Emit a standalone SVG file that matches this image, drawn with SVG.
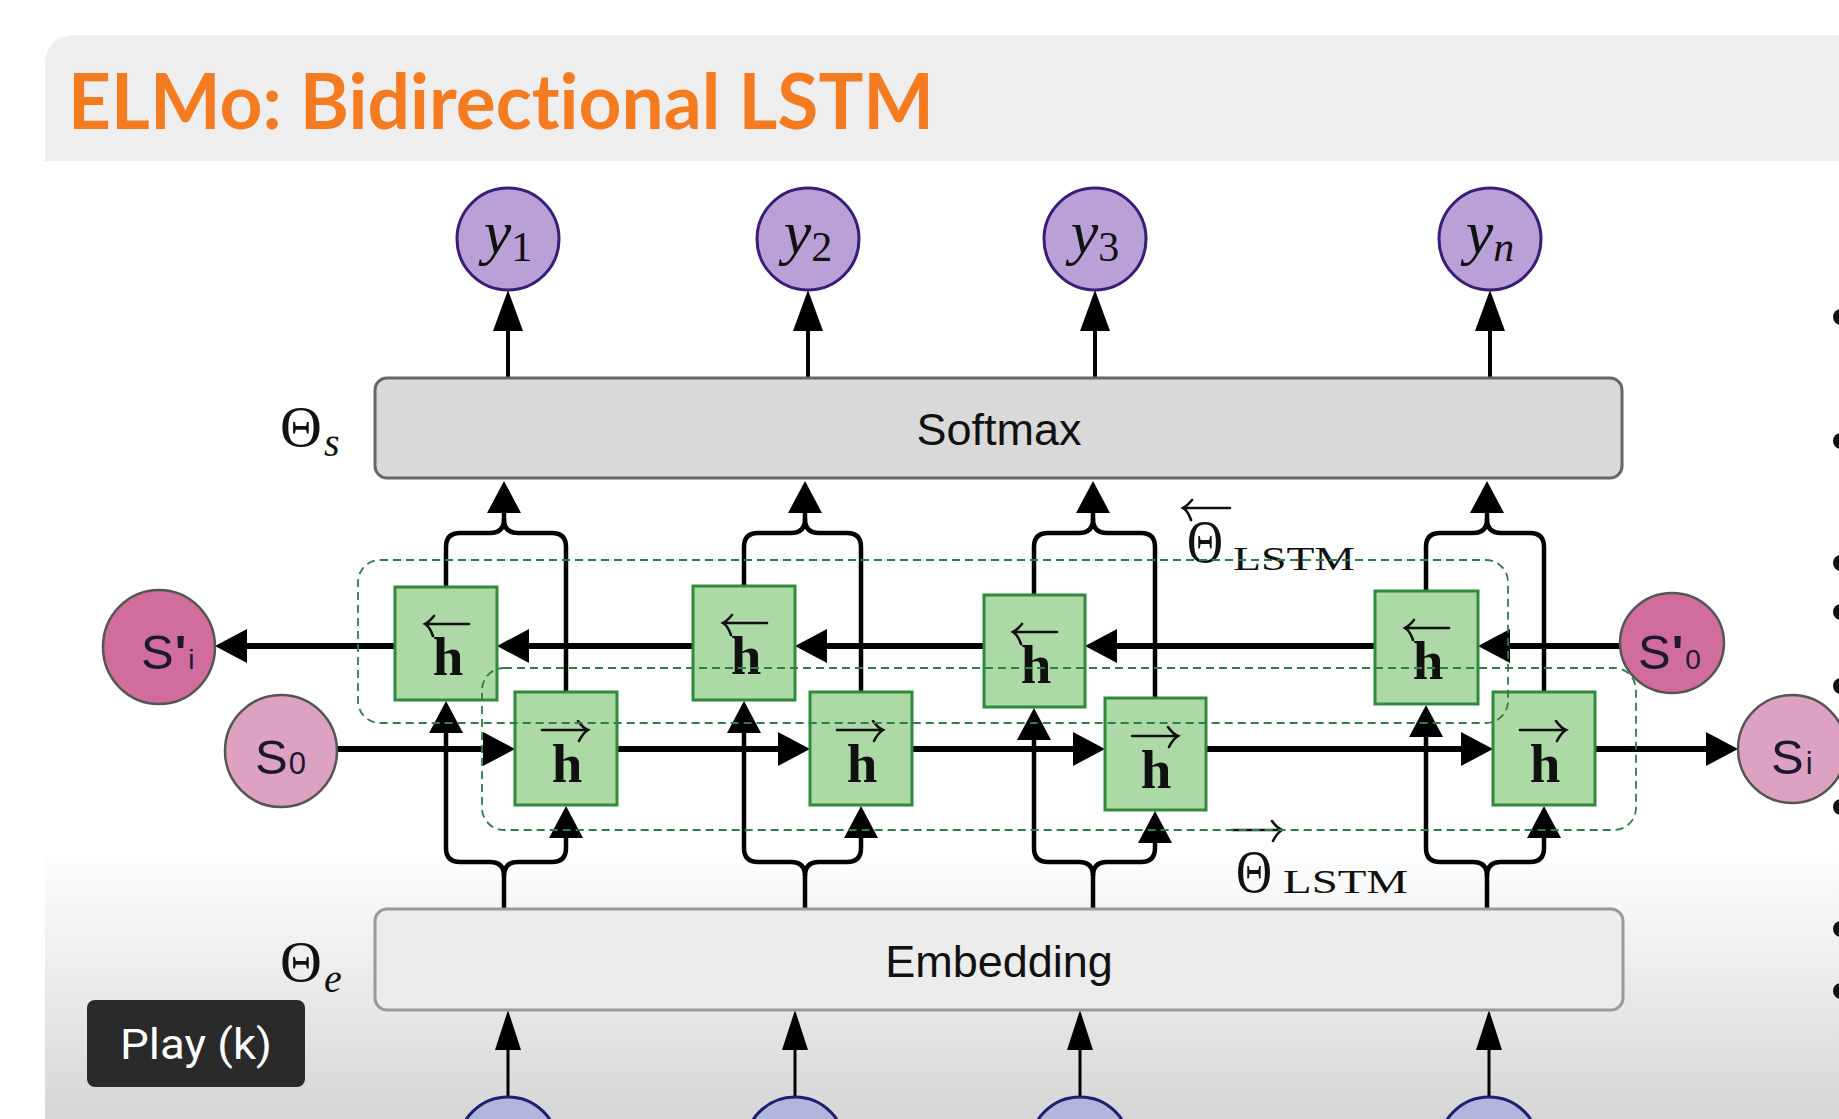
<svg xmlns="http://www.w3.org/2000/svg" width="1839" height="1119" viewBox="0 0 1839 1119">
<style>
.title{font-family:Lato,"Liberation Sans",sans-serif;font-weight:700;font-size:76px;fill:#f47b20;font-variant-ligatures:none;font-feature-settings:"liga" 0,"dlig" 0}
.box{font-family:"Liberation Sans",Arial,sans-serif;font-size:45px;fill:#111}
.math{font-family:"Liberation Serif","DejaVu Serif",serif;fill:#111}
.it{font-style:italic}
.hl{font-family:"Liberation Serif","DejaVu Serif",serif;font-weight:700;font-size:55px;fill:#111}
.sl{font-family:"Liberation Sans",Arial,sans-serif;font-size:49px;fill:#1c1830}
.cell{fill:#acd9a6;stroke:#2f8a3a;stroke-width:3}
.out{fill:#b9a0d6;stroke:#3a1d78;stroke-width:3}
.inp{fill:#b2b6dd;stroke:#1d1f70;stroke-width:3}
.sd{fill:#d16d9c;stroke:#555;stroke-width:2.5}
.sl2{fill:#dda2c2;stroke:#555;stroke-width:2.5}
.hz{fill:none;stroke:#000;stroke-width:6}
.vt{fill:none;stroke:#000;stroke-width:4.5}
.th{fill:none;stroke:#000;stroke-width:4}
.tn{fill:none;stroke:#000;stroke-width:3}
.dash{fill:none;stroke:#2e7d4a;stroke-width:1.8;stroke-dasharray:8 5}
.vec{fill:none;stroke:#111;stroke-width:2.6;stroke-linecap:round}
.bul{fill:#111}
</style>
<defs>
<linearGradient id="bg" x1="0" y1="0" x2="0" y2="1">
<stop offset="0" stop-color="#ffffff"/>
<stop offset="0.72" stop-color="#ffffff"/>
<stop offset="1" stop-color="#d6d6d6"/>
</linearGradient>
<marker id="ah" markerUnits="userSpaceOnUse" viewBox="0 -20 40 40" refX="0" refY="0" markerWidth="40" markerHeight="40" orient="auto" overflow="visible"><path d="M0,-17 L32,0 L0,17 z" fill="#000"/></marker>
<marker id="at" markerUnits="userSpaceOnUse" viewBox="0 -20 45 40" refX="0" refY="0" markerWidth="45" markerHeight="40" orient="auto" overflow="visible"><path d="M0,-15 L41,0 L0,15 z" fill="#000"/></marker>
<marker id="ai" markerUnits="userSpaceOnUse" viewBox="0 -20 45 40" refX="0" refY="0" markerWidth="45" markerHeight="40" orient="auto" overflow="visible"><path d="M0,-13 L40,0 L0,13 z" fill="#000"/></marker>
</defs>
<rect x="0" y="0" width="1839" height="1119" fill="#ffffff"/>
<rect x="45" y="150" width="1794" height="969" fill="url(#bg)"/>
<path d="M45,161 L45,67 Q45,35 77,35 L1839,35 L1839,161 z" fill="#eeeeee"/>
<text class="title" x="68" y="129" textLength="866" lengthAdjust="spacingAndGlyphs">ELMo: Bidirectional LSTM</text>

<g id="connectors">
<path class="th" d="M508,378 L508,331" marker-end="url(#at)"/>
<path class="th" d="M808,378 L808,331" marker-end="url(#at)"/>
<path class="th" d="M1095,378 L1095,331" marker-end="url(#at)"/>
<path class="th" d="M1490,378 L1490,331" marker-end="url(#at)"/>
<path class="tn" d="M508,1097 L508,1050" marker-end="url(#ai)"/>
<path class="tn" d="M795,1097 L795,1050" marker-end="url(#ai)"/>
<path class="tn" d="M1080,1097 L1080,1050" marker-end="url(#ai)"/>
<path class="tn" d="M1489,1097 L1489,1050" marker-end="url(#ai)"/>
<path class="hz" d="M1620,646 L1510,646" marker-end="url(#ah)"/>
<path class="hz" d="M1375,646 L1117,646" marker-end="url(#ah)"/>
<path class="hz" d="M984,646 L827,646" marker-end="url(#ah)"/>
<path class="hz" d="M693,646 L529,646" marker-end="url(#ah)"/>
<path class="hz" d="M395,646 L247,646" marker-end="url(#ah)"/>
<path class="hz" d="M337,749 L483,749" marker-end="url(#ah)"/>
<path class="hz" d="M617,749 L778,749" marker-end="url(#ah)"/>
<path class="hz" d="M912,749 L1073,749" marker-end="url(#ah)"/>
<path class="hz" d="M1206,749 L1461,749" marker-end="url(#ah)"/>
<path class="hz" d="M1595,749 L1706,749" marker-end="url(#ah)"/>
<path class="vt" d="M446,587 L446,547 Q446,533 460,533 L490,533 Q504,533 504,519 L504,513" marker-end="url(#ah)"/>
<path class="vt" d="M566,692 L566,547 Q566,533 552,533 L518,533 Q504,533 504,519"/>
<path class="vt" d="M744,586 L744,547 Q744,533 758,533 L791,533 Q805,533 805,519 L805,513" marker-end="url(#ah)"/>
<path class="vt" d="M861,692 L861,547 Q861,533 847,533 L819,533 Q805,533 805,519"/>
<path class="vt" d="M1034,595 L1034,547 Q1034,533 1048,533 L1079,533 Q1093,533 1093,519 L1093,513" marker-end="url(#ah)"/>
<path class="vt" d="M1155,698 L1155,547 Q1155,533 1141,533 L1107,533 Q1093,533 1093,519"/>
<path class="vt" d="M1426,591 L1426,547 Q1426,533 1440,533 L1473,533 Q1487,533 1487,519 L1487,513" marker-end="url(#ah)"/>
<path class="vt" d="M1544,692 L1544,547 Q1544,533 1530,533 L1501,533 Q1487,533 1487,519"/>
<path class="vt" d="M504,908 L504,876 Q504,862 490,862 L460,862 Q446,862 446,848 L446,733" marker-end="url(#ah)"/>
<path class="vt" d="M504,876 Q504,862 518,862 L552,862 Q566,862 566,848 L566,838" marker-end="url(#ah)"/>
<path class="vt" d="M805,908 L805,876 Q805,862 791,862 L758,862 Q744,862 744,848 L744,733" marker-end="url(#ah)"/>
<path class="vt" d="M805,876 Q805,862 819,862 L847,862 Q861,862 861,848 L861,838" marker-end="url(#ah)"/>
<path class="vt" d="M1093,908 L1093,876 Q1093,862 1079,862 L1048,862 Q1034,862 1034,848 L1034,740" marker-end="url(#ah)"/>
<path class="vt" d="M1093,876 Q1093,862 1107,862 L1141,862 Q1155,862 1155,848 L1155,843" marker-end="url(#ah)"/>
<path class="vt" d="M1487,908 L1487,876 Q1487,862 1473,862 L1440,862 Q1426,862 1426,848 L1426,737" marker-end="url(#ah)"/>
<path class="vt" d="M1487,876 Q1487,862 1501,862 L1530,862 Q1544,862 1544,848 L1544,838" marker-end="url(#ah)"/>
</g>

<g id="softmax">
<rect x="375" y="378" width="1247" height="100" rx="12" fill="#d9d9d9" stroke="#666" stroke-width="3"/>
<text class="box" x="999" y="445" text-anchor="middle">Softmax</text>
</g>
<g id="embedding">
<rect x="375" y="909" width="1248" height="101" rx="12" fill="#ececec" stroke="#9a9a9a" stroke-width="3"/>
<text class="box" x="999" y="977" text-anchor="middle">Embedding</text>
</g>
<g id="theta-s"><text class="math" x="280" y="446" font-size="58">Θ</text><text class="math it" x="324" y="456" font-size="40">s</text></g>
<g id="theta-e"><text class="math" x="280" y="981" font-size="58">Θ</text><text class="math it" x="324" y="992" font-size="40">e</text></g>

<g id="y1"><ellipse class="out" cx="508" cy="239" rx="51" ry="51"/><text class="math" x="508" y="253" text-anchor="middle"><tspan class="it" font-size="62">y</tspan><tspan font-size="42" dy="8">1</tspan></text></g>
<g id="y2"><ellipse class="out" cx="808" cy="239" rx="51" ry="51"/><text class="math" x="808" y="253" text-anchor="middle"><tspan class="it" font-size="62">y</tspan><tspan font-size="42" dy="8">2</tspan></text></g>
<g id="y3"><ellipse class="out" cx="1095" cy="239" rx="51" ry="51"/><text class="math" x="1095" y="253" text-anchor="middle"><tspan class="it" font-size="62">y</tspan><tspan font-size="42" dy="8">3</tspan></text></g>
<g id="yn"><ellipse class="out" cx="1490" cy="239" rx="51" ry="51"/><text class="math" x="1490" y="253" text-anchor="middle"><tspan class="it" font-size="62">y</tspan><tspan class="it" font-size="42" dy="8">n</tspan></text></g>

<g id="x1"><circle class="inp" cx="508" cy="1147" r="50"/></g>
<g id="x2"><circle class="inp" cx="795" cy="1147" r="50"/></g>
<g id="x3"><circle class="inp" cx="1080" cy="1147" r="50"/></g>
<g id="xn"><circle class="inp" cx="1489" cy="1147" r="50"/></g>

<g id="back1"><rect class="cell" x="395" y="587" width="102" height="113"/><path class="vec" d="M425,624 L469,624 M434,616 Q429,622 425,624 Q430,627 433,636"/><text class="hl" x="448" y="675" text-anchor="middle">h</text></g>
<g id="back2"><rect class="cell" x="693" y="586" width="102" height="114"/><path class="vec" d="M723,623 L767,623 M732,615 Q727,621 723,623 Q728,626 731,635"/><text class="hl" x="746" y="674" text-anchor="middle">h</text></g>
<g id="back3"><rect class="cell" x="984" y="595" width="101" height="112"/><path class="vec" d="M1013,632 L1057,632 M1022,624 Q1017,630 1013,632 Q1018,635 1021,644"/><text class="hl" x="1036" y="683" text-anchor="middle">h</text></g>
<g id="back4"><rect class="cell" x="1375" y="591" width="103" height="113"/><path class="vec" d="M1405,628 L1449,628 M1414,620 Q1409,626 1405,628 Q1410,631 1413,640"/><text class="hl" x="1428" y="679" text-anchor="middle">h</text></g>

<g id="fwd1"><rect class="cell" x="515" y="692" width="102" height="113"/><path class="vec" d="M542,730 L588,730 M578,721 Q583,728 588,730 Q583,733 579,741"/><text class="hl" x="567" y="782" text-anchor="middle">h</text></g>
<g id="fwd2"><rect class="cell" x="810" y="692" width="102" height="113"/><path class="vec" d="M837,730 L883,730 M873,721 Q878,728 883,730 Q878,733 874,741"/><text class="hl" x="862" y="782" text-anchor="middle">h</text></g>
<g id="fwd3"><rect class="cell" x="1105" y="698" width="101" height="112"/><path class="vec" d="M1132,736 L1178,736 M1168,727 Q1173,734 1178,736 Q1173,739 1169,747"/><text class="hl" x="1156" y="788" text-anchor="middle">h</text></g>
<g id="fwd4"><rect class="cell" x="1493" y="692" width="102" height="113"/><path class="vec" d="M1520,730 L1566,730 M1556,721 Q1561,728 1566,730 Q1561,733 1557,741"/><text class="hl" x="1545" y="782" text-anchor="middle">h</text></g>

<g id="s-prime-i"><ellipse class="sd" cx="159" cy="647" rx="56" ry="57"/><text class="sl" x="141" y="669">S<tspan font-weight="700" dx="1">'</tspan><tspan font-size="28" dx="2">i</tspan></text></g>
<g id="s0"><circle class="sl2" cx="281" cy="751" r="56"/><text class="sl" x="255" y="774">S<tspan font-size="31" dx="1">0</tspan></text></g>
<g id="s-prime-0"><ellipse class="sd" cx="1672" cy="643" rx="52" ry="50"/><text class="sl" x="1638" y="669">S<tspan font-weight="700" dx="1">'</tspan><tspan font-size="28" dx="2">0</tspan></text></g>
<g id="si"><circle class="sl2" cx="1792" cy="749" r="54"/><text class="sl" x="1771" y="774">S<tspan font-size="31" dx="2">i</tspan></text></g>

<g id="theta-back">
<path class="vec" d="M1183,508 L1230,508 M1192,500 Q1187,506 1183,508 Q1188,511 1191,520"/>
<text class="math" x="1187" y="562" font-size="62" textLength="36" lengthAdjust="spacingAndGlyphs">Θ</text>
<text class="math" x="1233" y="570" font-size="34" textLength="122" lengthAdjust="spacingAndGlyphs">LSTM</text>
</g>
<g id="theta-fwd">
<path class="vec" d="M1232,830 L1282,830 M1272,821 Q1277,828 1282,830 Q1277,833 1273,841"/>
<text class="math" x="1236" y="892" font-size="62" textLength="36" lengthAdjust="spacingAndGlyphs">Θ</text>
<text class="math" x="1283" y="893" font-size="34" textLength="125" lengthAdjust="spacingAndGlyphs">LSTM</text>
</g>

<g id="dashed-boxes">
<rect class="dash" x="358" y="560" width="1150" height="163" rx="22"/>
<rect class="dash" x="482" y="668" width="1154" height="162" rx="22"/>
</g>

<g id="bullets">
<circle class="bul" cx="1841" cy="317" r="8"/>
<circle class="bul" cx="1841" cy="441" r="8"/>
<circle class="bul" cx="1841" cy="563" r="8"/>
<circle class="bul" cx="1841" cy="612" r="8"/>
<circle class="bul" cx="1841" cy="686" r="8"/>
<circle class="bul" cx="1841" cy="807" r="8"/>
<circle class="bul" cx="1841" cy="929" r="8"/>
<circle class="bul" cx="1841" cy="991" r="8"/>
</g>

<g id="play">
<rect x="87" y="1000" width="218" height="87" rx="8" fill="#2a2a2a"/>
<text x="196" y="1059" text-anchor="middle" font-family="Roboto,'Liberation Sans',sans-serif" font-size="42" fill="#ffffff" textLength="152" lengthAdjust="spacingAndGlyphs">Play (k)</text>
</g>
</svg>
